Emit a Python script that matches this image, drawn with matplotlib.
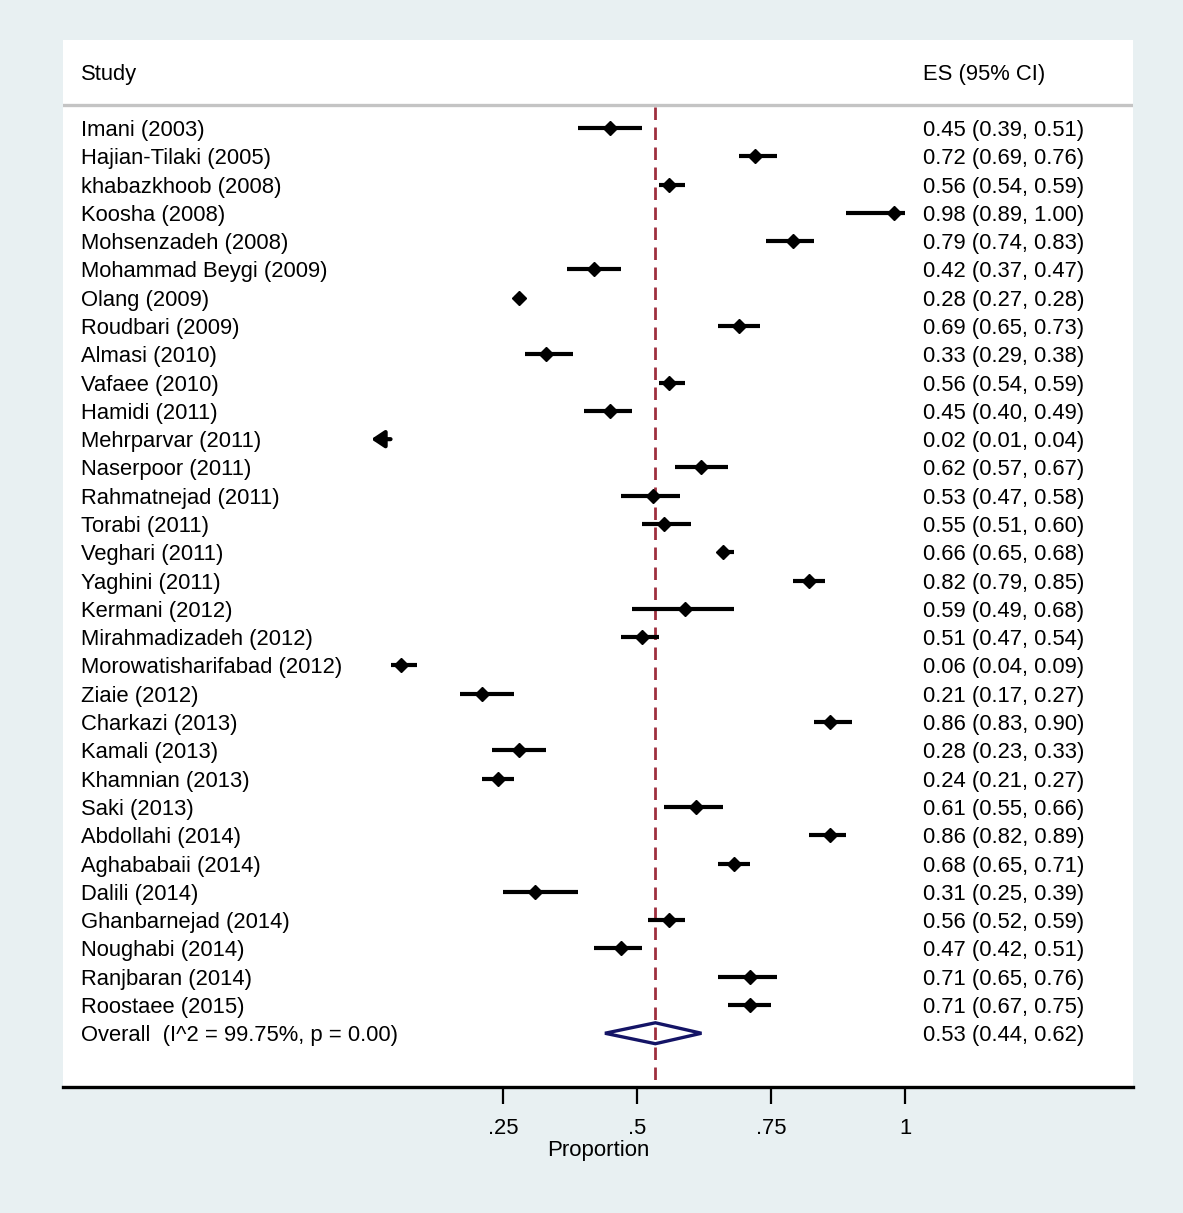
import numpy as np
import matplotlib
matplotlib.use("Agg")
import matplotlib.pyplot as plt
from matplotlib.patches import Polygon
import matplotlib.transforms as mtransforms

plt.rcParams["font.family"] = ["Liberation Sans", "DejaVu Sans"]

studies = ["Imani (2003)", "Hajian-Tilaki (2005)", "khabazkhoob (2008)", "Koosha (2008)",
           "Mohsenzadeh (2008)", "Mohammad Beygi (2009)", "Olang (2009)", "Roudbari (2009)",
           "Almasi (2010)", "Vafaee (2010)", "Hamidi (2011)", "Mehrparvar (2011)",
           "Naserpoor (2011)", "Rahmatnejad (2011)", "Torabi (2011)", "Veghari (2011)",
           "Yaghini (2011)", "Kermani (2012)", "Mirahmadizadeh (2012)",
           "Morowatisharifabad (2012)", "Ziaie (2012)", "Charkazi (2013)", "Kamali (2013)",
           "Khamnian (2013)", "Saki (2013)", "Abdollahi (2014)", "Aghababaii (2014)",
           "Dalili (2014)", "Ghanbarnejad (2014)", "Noughabi (2014)", "Ranjbaran (2014)",
           "Roostaee (2015)"]
es = [0.45, 0.72, 0.56, 0.98, 0.79, 0.42, 0.28, 0.69, 0.33, 0.56, 0.45, 0.02, 0.62, 0.53,
      0.55, 0.66, 0.82, 0.59, 0.51, 0.06, 0.21, 0.86, 0.28, 0.24, 0.61, 0.86, 0.68, 0.31,
      0.56, 0.47, 0.71, 0.71]
lo = [0.39, 0.69, 0.54, 0.89, 0.74, 0.37, 0.27, 0.65, 0.29, 0.54, 0.40, 0.01, 0.57, 0.47,
      0.51, 0.65, 0.79, 0.49, 0.47, 0.04, 0.17, 0.83, 0.23, 0.21, 0.55, 0.82, 0.65, 0.25,
      0.52, 0.42, 0.65, 0.67]
hi = [0.51, 0.76, 0.59, 1.00, 0.83, 0.47, 0.28, 0.73, 0.38, 0.59, 0.49, 0.04, 0.67, 0.58,
      0.60, 0.68, 0.85, 0.68, 0.54, 0.09, 0.27, 0.90, 0.33, 0.27, 0.66, 0.89, 0.71, 0.39,
      0.59, 0.51, 0.76, 0.75]
overall_label = "Overall  (I^2 = 99.75%, p = 0.00)"
overall = (0.534, 0.44, 0.62)
xticks = [0.25, 0.5, 0.75, 1.0]
xticklabels = [".25", ".5", ".75", "1"]

W, H = 1183, 1213
fig = plt.figure(figsize=(W / 100, H / 100), dpi=100)
fig.patch.set_facecolor("#e8f0f2")

# white plot panel
ax = fig.add_axes([63 / W, (H - 1087) / H, (1133 - 63) / W, (1087 - 40) / H])
ax.set_facecolor("white")
ax.set_xlim(-0.571, 1.425)
ax.set_ylim(33.9, -3.11)
for s in ("top", "left", "right"):
    ax.spines[s].set_visible(False)
ax.spines["bottom"].set_linewidth(2.4)
ax.spines["bottom"].set_color("black")
ax.set_yticks([])
ax.set_xticks(xticks)
ax.set_xticklabels(xticklabels, fontsize=15.8)
ax.tick_params(axis="x", direction="out", length=12, width=1.6, pad=10)
ax.set_xlabel("Proportion", fontsize=16, labelpad=1)

tr = mtransforms.blended_transform_factory(ax.transAxes, ax.transData)
fs = 15.8
xs_name = (81 - 63) / 1070
xs_es = (923 - 63) / 1070
va = "center_baseline"

# header
ax.text(xs_name, -1.98, "Study", transform=tr, fontsize=fs, va=va, ha="left")
ax.text(xs_es, -1.98, "ES (95% CI)", transform=tr, fontsize=fs, va=va, ha="left")
ax.axhline(-0.81, color="#c4c4c4", lw=2.4)

n = len(studies)
bottom = ax.get_ylim()[0]
ax.plot([overall[0], overall[0]], [-0.74, bottom], color="#9e2f3e", lw=2.0,
        dashes=(4.5, 2.7), zorder=2)

for i in range(n):
    if lo[i] <= 0.01:
        # CI runs off the left: Stata draws an arrow instead of the point
        ax.annotate("", xy=(lo[i] - 0.006, i), xytext=(hi[i], i),
                    arrowprops=dict(arrowstyle="-|>,head_length=0.45,head_width=0.3",
                                    mutation_scale=17, shrinkA=0, shrinkB=0,
                                    color="black", lw=3), zorder=3)
    else:
        ax.plot([lo[i], hi[i]], [i, i], color="black", lw=3, solid_capstyle="butt", zorder=3)
        ax.plot(es[i], i, marker="D", ms=7.5, color="black", zorder=4)
    ax.text(xs_name, i, studies[i], transform=tr, fontsize=fs, va=va, ha="left")
    ax.text(xs_es, i, f"{es[i]:.2f} ({lo[i]:.2f}, {hi[i]:.2f})", transform=tr,
            fontsize=fs, va=va, ha="left")

# overall diamond
yo = n
e, l, h = overall
dia = Polygon([(l, yo), (e, yo - 0.37), (h, yo), (e, yo + 0.37)], closed=True,
              fill=False, edgecolor="#141466", lw=2.4, zorder=5)
ax.add_patch(dia)
ax.text(xs_name, yo, overall_label, transform=tr, fontsize=fs, va=va, ha="left")
ax.text(xs_es, yo, f"{e:.2f} ({l:.2f}, {h:.2f})", transform=tr, fontsize=fs,
        va=va, ha="left")

fig.savefig("out.png", dpi=100, facecolor=fig.get_facecolor())
